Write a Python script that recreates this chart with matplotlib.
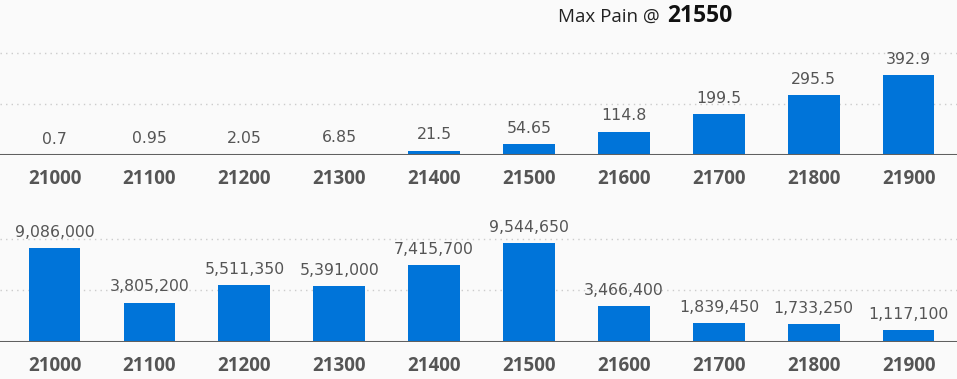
import numpy as np
import matplotlib.pyplot as plt

####################
# Data
####################
strikes = ['21000', '21100', '21200', '21300', '21400',
           '21500', '21600', '21700', '21800', '21900']
premium = [0.7, 0.95, 2.05, 6.85, 21.5, 54.65, 114.8, 199.5, 295.5, 392.9]
premium_labels = ['0.7', '0.95', '2.05', '6.85', '21.5',
                  '54.65', '114.8', '199.5', '295.5', '392.9']
pain = [9086000, 3805200, 5511350, 5391000, 7415700,
        9544650, 3466400, 1839450, 1733250, 1117100]
max_pain = '21550'

####################
# Style
####################
plt.rcParams['font.family'] = ['Open Sans', 'DejaVu Sans']
bg = '#fafafa'
bar_col = '#0074d9'
txt_col = '#555555'

W, H = 957, 379
fig = plt.figure(figsize=(W / 100, H / 100), dpi=100, facecolor=bg)

def px_axes(top, bottom):
    # axes spanning full width, vertical extent in pixels from top
    return fig.add_axes([0, 1 - bottom / H, 1, (bottom - top) / H], facecolor=bg)

def draw(ax, vals, labels, ymax, grid):
    x = np.arange(len(vals))
    ax.bar(x, vals, width=0.545, color=bar_col, zorder=3)
    ax.set_xlim(-0.575, 9.51)
    ax.set_ylim(0, ymax)
    for g in grid:
        ax.axhline(g, color='#cccccc', lw=1, ls=(0, (1, 3)), zorder=1)
    ax.axhline(0, color='#606060', lw=2.2, zorder=4)
    for xi, v, lab in zip(x, vals, labels):
        ax.annotate(lab, (xi, v), xytext=(0, 6), textcoords='offset points',
                    ha='center', va='bottom', fontsize=11.3, color=txt_col,
                    family='DejaVu Sans', clip_on=False)
    ax.set_xticks(x)
    ax.set_xticklabels(strikes, fontsize=13.5, fontweight='bold', color=txt_col)
    ax.tick_params(axis='x', length=0, pad=10)
    ax.set_yticks([])
    for s in ax.spines.values():
        s.set_visible(False)

# top: premium
ax1 = px_axes(30, 155)
draw(ax1, premium, premium_labels, 125 / 0.2036, [250, 500])

# bottom: pain values
ax2 = px_axes(217, 342)
draw(ax2, pain, ['{:,}'.format(v) for v in pain], 125 / 1.032e-5, [5e6, 10e6])

# title
t1 = fig.text(558 / W, 1 - 17 / H, 'Max Pain @', ha='left', va='center',
              fontsize=13.5, color='#222222')
fig.canvas.draw()
bb = t1.get_window_extent()
fig.text((bb.x1 + 7) / W, 1 - 16 / H, max_pain, ha='left', va='center',
         fontsize=16.5, fontweight='bold', color='#111111')

fig.savefig('out.png', dpi=100, facecolor=bg)
